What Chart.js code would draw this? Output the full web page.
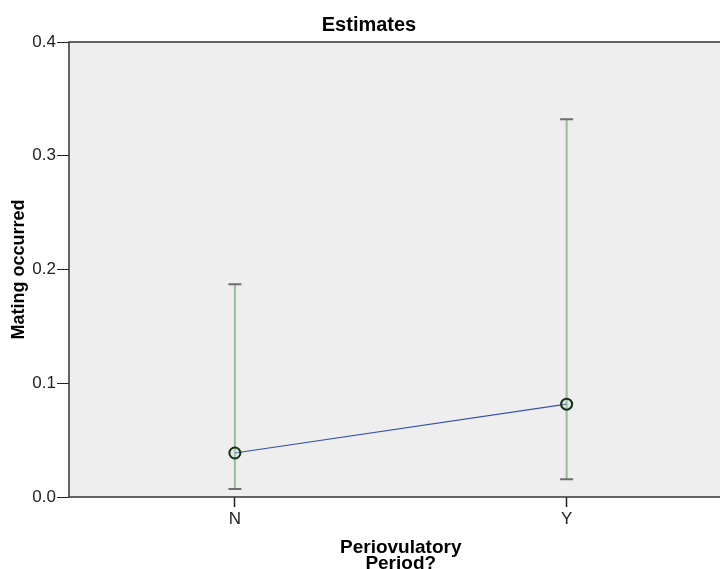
<!DOCTYPE html>
<html>
<head>
<meta charset="utf-8">
<script src="https://cdn.jsdelivr.net/npm/chart.js"></script>
<style>
  html, body { margin: 0; padding: 0; background: #fff; overflow: hidden; }
  #wrap { width: 740px; height: 571px; }
</style>
</head>
<body>
<div id="wrap"><canvas id="chart"></canvas></div>
<script>
  // values
  const categories = ['N', 'Y'];
  const means = [0.0387, 0.0816];
  const lowerCI = [0.007, 0.0156];
  const upperCI = [0.187, 0.332];
  const yTicks = [0, 0.1, 0.2, 0.3, 0.4];

  const FONT = 'Arial, "Liberation Sans", sans-serif';

  // grey plot background + frame
  const plotFrame = {
    id: 'plotFrame',
    beforeDraw(chart) {
      const { ctx, chartArea: a } = chart;
      ctx.save();
      ctx.fillStyle = '#eeeeee';
      ctx.fillRect(a.left, a.top, a.right - a.left, a.bottom - a.top);
      ctx.restore();
    },
    afterDraw(chart) {
      const { ctx, chartArea: a } = chart;
      ctx.save();
      ctx.strokeStyle = '#333333';
      ctx.lineWidth = 1.5;
      ctx.beginPath();
      ctx.moveTo(a.left, a.bottom);
      ctx.lineTo(a.left, a.top);
      ctx.lineTo(a.right, a.top);
      ctx.moveTo(a.left, a.bottom);
      ctx.lineTo(a.right, a.bottom);
      ctx.stroke();
      ctx.restore();
    }
  };

  // 95% CI whiskers
  const errorBars = {
    id: 'errorBars',
    beforeDatasetsDraw(chart) {
      const { ctx, scales: { x, y } } = chart;
      ctx.save();
      categories.forEach((c, i) => {
        const px = x.getPixelForValue(i);
        const lo = y.getPixelForValue(lowerCI[i]);
        const hi = y.getPixelForValue(upperCI[i]);
        ctx.strokeStyle = '#93bf93';
        ctx.lineWidth = 2;
        ctx.beginPath();
        ctx.moveTo(px, lo);
        ctx.lineTo(px, hi);
        ctx.stroke();
        ctx.strokeStyle = '#6e6e6e';
        ctx.lineWidth = 2;
        ctx.beginPath();
        ctx.moveTo(px - 6.5, lo); ctx.lineTo(px + 6.5, lo);
        ctx.moveTo(px - 6.5, hi); ctx.lineTo(px + 6.5, hi);
        ctx.stroke();
      });
      ctx.restore();
    }
  };

  new Chart(document.getElementById('chart'), {
    type: 'line',
    data: {
      labels: categories,
      datasets: [{
        data: means,
        borderColor: '#3553a8',
        borderWidth: 1.2,
        pointRadius: 5.5,
        pointBorderWidth: 2,
        pointBorderColor: '#163016',
        pointBackgroundColor: 'rgba(200,220,200,0.3)',
        tension: 0
      }]
    },
    options: {
      responsive: true,
      maintainAspectRatio: false,
      animation: false,
      layout: { padding: { left: 0, right: 2, top: 0, bottom: 0 } },
      plugins: {
        legend: { display: false },
        tooltip: { enabled: false },
        title: {
          display: true,
          text: 'Estimates',
          color: '#000',
          font: { family: FONT, size: 20, weight: 'bold' },
          padding: { top: 13.5, bottom: 4.5 }
        }
      },
      scales: {
        x: {
          type: 'category',
          offset: true,
          grid: { display: true, drawOnChartArea: false, tickLength: 10, color: '#222', tickWidth: 1.5 },
          border: { display: false },
          ticks: { color: '#222', font: { family: FONT, size: 17 }, padding: 2 },
          title: {
            display: true,
            text: ['Periovulatory', 'Period?'],
            color: '#000',
            font: { family: FONT, size: 19, weight: 'bold', lineHeight: 0.8 },
            padding: { top: 2, bottom: 0 }
          },
          afterFit(s) { s.height = 74; }
        },
        y: {
          min: 0,
          max: 0.4,
          afterBuildTicks(s) { s.ticks = yTicks.map(v => ({ value: v })); },
          grid: { display: true, drawOnChartArea: false, tickLength: 12, color: '#222', tickWidth: 1 },
          border: { display: false },
          ticks: {
            color: '#222',
            font: { family: FONT, size: 17 },
            padding: 1,
            callback: v => Number(v).toFixed(1)
          },
          title: {
            display: true,
            text: 'Mating occurred',
            color: '#000',
            font: { family: FONT, size: 18, weight: 'bold' },
            padding: { top: 8.7, bottom: 2 }
          },
          afterFit(s) { s.width = 69; }
        }
      }
    },
    plugins: [plotFrame, errorBars]
  });
</script>
</body>
</html>
